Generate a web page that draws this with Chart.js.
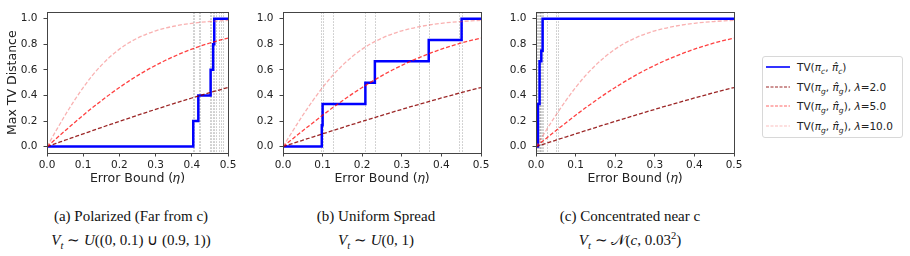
<!DOCTYPE html>
<html><head><meta charset="utf-8">
<script src="https://cdn.jsdelivr.net/npm/chart.js@4.4.1/dist/chart.umd.min.js"></script>
<style>
html,body{margin:0;padding:0;background:#fff;width:910px;height:256px;overflow:hidden;position:relative;}
canvas.c{position:absolute;top:0;}
.cap{position:absolute;font-family:"Liberation Serif","Times New Roman",serif;font-size:15px;line-height:18px;color:#111;text-align:center;white-space:nowrap;transform:translateX(-50%);}
.cap sub,.cap sup{font-size:70%;line-height:0;}
.legend{position:absolute;left:762px;top:56px;width:141px;height:82px;border:1px solid #d8d8d8;border-radius:3px;box-sizing:border-box;font-family:"DejaVu Sans",sans-serif;font-size:10.5px;color:#222;background:#fff;}
.row{position:absolute;left:0;width:139px;height:16px;}
.row svg{position:absolute;left:3px;top:0;}
.row .t{position:absolute;left:34px;top:0;line-height:16px;white-space:nowrap;}
.t sub{font-size:72%;line-height:0;vertical-align:-3px;}
</style>
</head><body>
<canvas id="c1" class="c" width="240" height="186" style="left:0px"></canvas>
<canvas id="c2" class="c" width="255" height="186" style="left:240px"></canvas>
<canvas id="c3" class="c" width="250" height="186" style="left:495px"></canvas>

<div class="legend">
  <div class="row" style="top:2px"><svg width="26" height="16"><line x1="0" y1="8" x2="24" y2="8" stroke="#0000ff" stroke-width="1.6"/></svg><span class="t">TV(<i>π<sub>c</sub></i>, <i>π̂<sub>c</sub></i>)</span></div>
  <div class="row" style="top:22px"><svg width="26" height="16"><line x1="0" y1="8" x2="24" y2="8" stroke="rgba(139,0,0,0.85)" stroke-width="1" stroke-dasharray="3,1.5"/></svg><span class="t">TV(<i>π<sub>g</sub></i>, <i>π̂<sub>g</sub></i>), <i>λ</i>=2.0</span></div>
  <div class="row" style="top:41px"><svg width="26" height="16"><line x1="0" y1="8" x2="24" y2="8" stroke="rgba(255,0,0,0.6)" stroke-width="1" stroke-dasharray="3,1.5"/></svg><span class="t">TV(<i>π<sub>g</sub></i>, <i>π̂<sub>g</sub></i>), <i>λ</i>=5.0</span></div>
  <div class="row" style="top:61px"><svg width="26" height="16"><line x1="0" y1="8" x2="24" y2="8" stroke="rgba(240,70,70,0.35)" stroke-width="1" stroke-dasharray="3,1.5"/></svg><span class="t">TV(<i>π<sub>g</sub></i>, <i>π̂<sub>g</sub></i>), <i>λ</i>=10.0</span></div>
</div>

<div class="cap" style="left:131px;top:207px">(a) Polarized (Far from c)</div>
<div class="cap" style="left:131px;top:231px"><i>V<sub>t</sub></i> ∼ <i>U</i>((0, 0.1) ∪ (0.9, 1))</div>
<div class="cap" style="left:376px;top:207px">(b) Uniform Spread</div>
<div class="cap" style="left:376px;top:231px"><i>V<sub>t</sub></i> ∼ <i>U</i>(0, 1)</div>
<div class="cap" style="left:630px;top:207px">(c) Concentrated near c</div>
<div class="cap" style="left:630px;top:231px"><i>V<sub>t</sub></i> ∼ 𝒩(<i>c</i>, 0.03<sup>2</sup>)</div>

<script>
// ---- data ----
const xTicks = [0, 0.1, 0.2, 0.3, 0.4, 0.5];
const yTicks = [0, 0.2, 0.4, 0.6, 0.8, 1.0];
const etaGrid = [0,0.025,0.05,0.075,0.1,0.125,0.15,0.175,0.2,0.225,0.25,0.275,0.3,0.325,0.35,0.375,0.4,0.425,0.45,0.475,0.5];
const tvLam2  = [0,0.025,0.050,0.075,0.100,0.124,0.149,0.173,0.197,0.221,0.245,0.268,0.291,0.314,0.336,0.358,0.380,0.401,0.422,0.442,0.462];
const tvLam5  = [0,0.062,0.124,0.185,0.245,0.303,0.358,0.412,0.462,0.510,0.555,0.597,0.635,0.671,0.704,0.734,0.762,0.787,0.810,0.830,0.848];
const tvLam10 = [0,0.124,0.245,0.358,0.462,0.555,0.635,0.704,0.762,0.810,0.848,0.880,0.905,0.925,0.941,0.954,0.964,0.972,0.978,0.983,0.987];

const stepA_x = [0, 0.404, 0.418, 0.452, 0.459, 0.462, 0.5];
const stepA_y = [0, 0.2, 0.4, 0.6, 0.8, 1.0, 1.0];
const stepB_x = [0, 0.098, 0.100, 0.208, 0.232, 0.368, 0.451, 0.5];
const stepB_y = [0, 0.167, 0.333, 0.5, 0.667, 0.833, 1.0, 1.0];
const stepC_x = [0, 0.005, 0.009, 0.0134, 0.0167, 0.5];
const stepC_y = [0, 0.333, 0.667, 0.75, 1.0, 1.0];

const vlinesA = [0.402,0.407,0.419,0.423,0.450,0.454,0.458,0.462,0.468,0.474,0.480,0.485];
const vlinesB = [0.097,0.100,0.125,0.208,0.232,0.344,0.368,0.444,0.451];
const vlinesC = [0.003,0.005,0.007,0.009,0.011,0.013,0.015,0.017,0.029,0.051,0.056];

const yRange = [-0.05, 1.05];
const xRange = [0, 0.5];

// ---- plugins ----
const framePlugin = {
  id: 'frame',
  afterDraw(chart) {
    const {ctx, chartArea: a} = chart;
    ctx.save();
    ctx.strokeStyle = '#444';
    ctx.lineWidth = 1;
    ctx.strokeRect(Math.round(a.left) + 0.5, Math.round(a.top) + 0.5, Math.round(a.right - a.left), Math.round(a.bottom - a.top));
    ctx.restore();
  }
};
const vlinePlugin = {
  id: 'vlines',
  beforeDatasetsDraw(chart, args, opts) {
    const {ctx, chartArea: a, scales} = chart;
    ctx.save();
    ctx.strokeStyle = 'rgba(140,140,140,0.5)';
    ctx.lineWidth = 1;
    ctx.setLineDash([1.5, 1.5]);
    (opts.values || []).forEach(v => {
      const px = Math.round(scales.x.getPixelForValue(v)) + 0.5;
      ctx.beginPath(); ctx.moveTo(px, a.top); ctx.lineTo(px, a.bottom); ctx.stroke();
    });
    ctx.restore();
  }
};

const pts = (xs, ys) => xs.map((x, i) => ({x, y: ys[i]}));
const FONT = 'DejaVu Sans';

function makeChart(id, stepX, stepY, vlines, yWidth, padRight, showYTitle) {
  return new Chart(document.getElementById(id), {
    type: 'line',
    data: {
      datasets: [
        {data: pts(stepX, stepY), borderColor: '#0000ff', borderWidth: 2.5, stepped: 'before', pointRadius: 0, order: 4},
        {data: pts(etaGrid, tvLam2), borderColor: 'rgba(139,0,0,0.85)', borderWidth: 1.3, borderDash: [4, 2], pointRadius: 0, cubicInterpolationMode: 'monotone', order: 3},
        {data: pts(etaGrid, tvLam5), borderColor: 'rgba(255,0,0,0.75)', borderWidth: 1.3, borderDash: [4, 2], pointRadius: 0, cubicInterpolationMode: 'monotone', order: 2},
        {data: pts(etaGrid, tvLam10), borderColor: 'rgba(240,70,70,0.42)', borderWidth: 1.3, borderDash: [4, 2], pointRadius: 0, cubicInterpolationMode: 'monotone', order: 1}
      ]
    },
    options: {
      responsive: false, animation: false, devicePixelRatio: 1,
      layout: {padding: {top: 6, right: padRight, left: 0, bottom: 0}},
      plugins: {legend: {display: false}, tooltip: {enabled: false}, vlines: {values: vlines}},
      scales: {
        x: {
          type: 'linear', min: xRange[0], max: xRange[1],
          afterBuildTicks: s => { s.ticks = xTicks.map(v => ({value: v})); },
          afterFit: s => { s.height = 33; },
          grid: {display: true, drawOnChartArea: false, drawTicks: true, tickLength: 3.5, color: '#444'},
          border: {display: false},
          ticks: {font: {family: FONT, size: 10.5}, color: '#222', padding: 2, maxRotation: 0, autoSkip: false, callback: v => Number(v).toFixed(1)},
          title: {display: true, text: 'Error Bound (𝜂)', font: {family: FONT, size: 12.5}, color: '#222', padding: 0}
        },
        y: {
          type: 'linear', min: yRange[0], max: yRange[1],
          afterBuildTicks: s => { s.ticks = yTicks.map(v => ({value: v})); },
          afterFit: s => { s.width = yWidth; },
          grid: {display: true, drawOnChartArea: false, drawTicks: true, tickLength: 3.5, color: '#444'},
          border: {display: false},
          ticks: {font: {family: FONT, size: 10.5}, color: '#222', padding: 6, autoSkip: false, callback: v => Number(v).toFixed(1)},
          title: {display: showYTitle, text: 'Max TV Distance', font: {family: FONT, size: 12.5}, color: '#222', padding: {top: 5, bottom: 0}}
        }
      }
    },
    plugins: [framePlugin, vlinePlugin]
  });
}

makeChart('c1', stepA_x, stepA_y, vlinesA, 47, 12, true);
makeChart('c2', stepB_x, stepB_y, vlinesB, 43, 14, false);
makeChart('c3', stepC_x, stepC_y, vlinesC, 41, 11, false);
</script>
</body></html>
